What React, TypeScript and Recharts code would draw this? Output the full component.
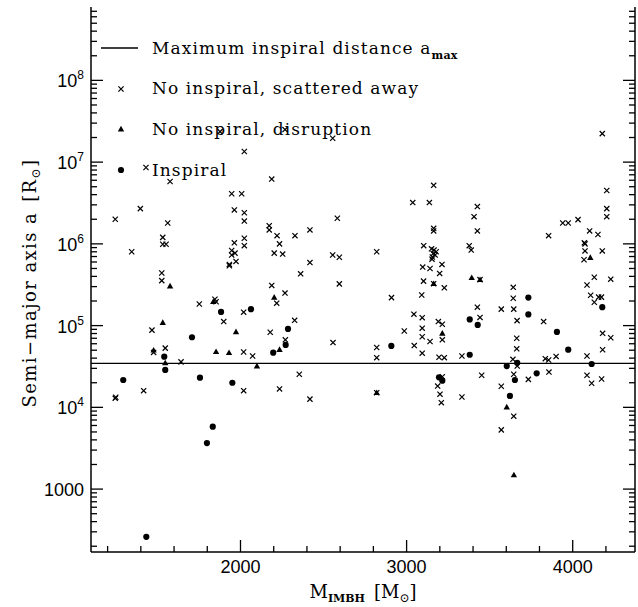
import React from 'react'
import { ReferenceLine, Scatter, ScatterChart, XAxis, YAxis } from 'recharts'

// axis ranges
const xDomain = [1100, 4375]
const yDomain = [170, 7.9e8]
const aMax = 34600

const xTicks = [1200, 1400, 1600, 1800, 2000, 2200, 2400, 2600, 2800, 3000, 3200, 3400, 3600, 3800, 4000, 4200]
const xMajorTicks = [2000, 3000, 4000]
const yMajorTicks = [1000, 1e4, 1e5, 1e6, 1e7, 1e8]
const yTickBases = ['1000', '10', '10', '10', '10', '10']
const yTickPowers = ['', '4', '5', '6', '7', '8']
const yMinorSteps = [2, 3, 4, 5, 6, 7, 8, 9]

// [M_IMBH, a]
const scatteredAway: [number, number][] = [
  [1431, 8.6e6], [2023, 1.35e7], [1576, 5.8e6], [2188, 6.2e6], [1947, 4.1e6], [2007, 4.1e6],
  [1397, 2.7e6], [1963, 2.6e6], [2023, 2.4e6], [1246, 2.0e6], [1562, 1.8e6], [2023, 1.9e6],
  [2173, 1.67e6], [2173, 1.48e6], [2220, 1.26e6], [1532, 1.2e6], [1532, 9.9e5], [1552, 9.9e5],
  [1963, 1.03e6], [2023, 1.17e6], [2023, 9.5e5], [2235, 1.0e6], [1345, 8.0e5], [1947, 8.3e5],
  [1947, 7.3e5], [1967, 7.7e5], [2203, 7.7e5], [1933, 5.6e5], [1933, 5.4e5], [1973, 6.1e5],
  [1526, 4.4e5], [1526, 3.55e5], [2188, 3.1e5], [1846, 2.1e5], [2218, 1.88e5], [1752, 1.84e5],
  [1853, 1.96e5], [2019, 1.46e5], [1899, 1.12e5], [1467, 8.8e4], [2179, 8.3e4], [1477, 4.7e4],
  [1547, 5.3e4], [2019, 4.75e4], [2073, 4.25e4], [1642, 3.6e4], [1417, 1.6e4], [2019, 1.6e4],
  [2235, 1.68e4], [1246, 1.29e4], [1249, 1.33e4], [1877, 2.36e7], [2268, 2.5e7], [2555, 1.96e7],
  [3163, 5.2e6], [3037, 3.2e6], [3137, 3.2e6], [2583, 2.06e6], [3163, 1.55e6], [3163, 1.44e6],
  [2328, 1.26e6], [2418, 1.48e6], [3103, 9.5e5], [3150, 8.7e5], [3165, 8.4e5], [3178, 8.0e5],
  [3160, 7.6e5], [3172, 7.3e5], [3155, 6.9e5], [2254, 7.5e5], [2555, 7.3e5], [2595, 6.85e5],
  [2820, 8.0e5], [2418, 5.9e5], [3153, 6.5e5], [3213, 5.6e5], [3097, 5.2e5], [3141, 5.0e5],
  [3199, 4.35e5], [2362, 4.3e5], [2595, 3.24e5], [3102, 3.5e5], [3163, 3.26e5], [3227, 2.9e5],
  [2268, 2.5e5], [2909, 2.2e5], [3091, 2.37e5], [3044, 1.38e5], [3094, 1.25e5], [2326, 1.16e5],
  [3191, 1.12e5], [3215, 1.04e5], [3094, 9.3e4], [2986, 8.6e4], [3094, 7.3e4], [3215, 6.7e4],
  [2270, 6.7e4], [3141, 6.4e4], [2557, 6.2e4], [3046, 5.7e4], [2820, 5.4e4], [3094, 4.6e4],
  [2820, 4.05e4], [3195, 4.1e4], [3227, 4.05e4], [2354, 2.54e4], [3215, 2.37e4], [3187, 1.82e4],
  [2418, 1.26e4], [2820, 1.51e4], [3201, 1.45e4], [3209, 1.14e4], [4178, 2.23e7], [4205, 4.5e6],
  [4205, 2.7e6], [4205, 2.15e6], [3426, 2.86e6], [3406, 2.15e6], [3426, 1.44e6], [3940, 1.8e6],
  [3973, 1.8e6], [4032, 1.98e6], [3855, 1.26e6], [4102, 1.44e6], [4152, 1.3e6], [3377, 9.5e5],
  [3389, 8.4e5], [4070, 1.03e6], [4074, 1.0e6], [4074, 8.2e5], [4178, 8.2e5], [4068, 6.4e5],
  [3442, 3.65e5], [3642, 2.94e5], [4130, 3.9e5], [4229, 3.7e5], [4086, 3.14e5], [4108, 2.35e5],
  [4156, 2.23e5], [4173, 2.23e5], [3642, 2.16e5], [4130, 1.93e5], [3426, 1.68e5], [3442, 1.26e5],
  [3570, 1.59e5], [3645, 1.59e5], [3665, 1.15e5], [3825, 1.12e5], [4180, 8.05e4], [4229, 7.1e4],
  [3663, 7.0e4], [3663, 5.2e4], [4180, 5.07e4], [3900, 4.2e4], [4086, 4.25e4], [3333, 4.25e4],
  [3640, 3.87e4], [3666, 3.2e4], [3835, 3.94e4], [3855, 3.79e4], [3452, 2.47e4], [3645, 2.54e4],
  [3733, 2.2e4], [3857, 2.7e4], [4086, 2.47e4], [4114, 1.97e4], [4174, 2.22e4], [3570, 1.81e4],
  [3333, 1.34e4], [3645, 7.8e3], [3570, 5.3e3],
]

const disruption: [number, number][] = [
  [1576, 3.05e5], [2203, 2.22e5], [1836, 1.96e5], [1532, 1.09e5], [1973, 8.4e4], [1477, 5.0e4],
  [1547, 3.5e4], [1853, 4.8e4], [1931, 4.67e4], [2235, 5.1e4], [2099, 3.2e4], [3163, 3.26e5],
  [3215, 8.05e4], [4106, 6.8e5], [3392, 3.86e5], [3442, 3.65e5], [2820, 1.51e4], [3603, 1.01e4],
  [3646, 1490],
]

const inspiral: [number, number][] = [
  [1883, 1.47e5], [2063, 1.59e5], [1708, 7.2e4], [1541, 4.17e4], [2197, 4.67e4], [1547, 2.87e4],
  [1294, 2.16e4], [1756, 2.31e4], [1951, 2.0e4], [1833, 5.8e3], [1798, 3.66e3], [1433, 261],
  [2286, 9.1e4], [2272, 5.8e4], [2908, 5.64e4], [3195, 2.33e4], [3215, 2.12e4], [3733, 2.2e5],
  [4178, 1.68e5], [3380, 1.19e5], [3428, 1.02e5], [3733, 1.37e5], [3905, 8.36e4], [3973, 5.07e4],
  [3380, 4.4e4], [3666, 3.51e4], [3603, 3.2e4], [4114, 3.39e4], [3652, 2.16e4], [3783, 2.61e4],
  [3622, 1.38e4],
]

const yTicks = [...yMajorTicks.slice(0, 1).map((d) => d / 10), ...yMajorTicks]
  .flatMap((d) => [d, ...yMinorSteps.map((m) => d * m)])
  .filter((v) => v >= yDomain[0] && v <= yDomain[1])

const toPoints = (pairs: [number, number][]) => pairs.map(([x, y]) => ({ x, y }))

const serif = '"DejaVu Serif", serif'
const sans = '"Liberation Sans", Arial, sans-serif'
const ink = '#000'

function CrossMark(props: any) {
  const { cx, cy } = props
  const s = 2.6
  return (
    <path
      d={`M${cx - s},${cy - s}L${cx + s},${cy + s}M${cx - s},${cy + s}L${cx + s},${cy - s}`}
      stroke={ink}
      strokeWidth={1.2}
      fill="none"
    />
  )
}

function TriangleMark(props: any) {
  const { cx, cy } = props
  const s = 3.2
  return <path d={`M${cx},${cy - s}L${cx + s},${cy + s * 0.75}L${cx - s},${cy + s * 0.75}Z`} fill={ink} />
}

function DotMark(props: any) {
  const { cx, cy } = props
  return <circle cx={cx} cy={cy} r={3.1} fill={ink} />
}

function BottomTick(props: any) {
  const { x, y, payload } = props
  const major = xMajorTicks.includes(payload.value)
  return (
    <g>
      <line x1={x} x2={x} y1={y} y2={y - (major ? 12 : 6)} stroke={ink} strokeWidth={1.3} />
      {major && (
        <text x={x} y={y + 21} textAnchor="middle" fontFamily={sans} fontSize={18} fill={ink}>
          {payload.value}
        </text>
      )}
    </g>
  )
}

function TopTick(props: any) {
  const { x, y, payload } = props
  const major = xMajorTicks.includes(payload.value)
  return <line x1={x} x2={x} y1={y} y2={y + (major ? 12 : 6)} stroke={ink} strokeWidth={1.3} />
}

function LeftTick(props: any) {
  const { x, y, payload } = props
  const i = yMajorTicks.indexOf(payload.value)
  const major = i >= 0
  return (
    <g>
      <line x1={x} x2={x + (major ? 12 : 6)} y1={y} y2={y} stroke={ink} strokeWidth={1.3} />
      {major && (
        <text x={x - 7} y={y + 7} textAnchor="end" fontFamily={sans} fontSize={18} fill={ink}>
          {yTickBases[i]}
          {yTickPowers[i] && (
            <tspan dy={-8} fontSize={12}>
              {yTickPowers[i]}
            </tspan>
          )}
        </text>
      )}
    </g>
  )
}

function RightTick(props: any) {
  const { x, y, payload } = props
  const major = yMajorTicks.includes(payload.value)
  return <line x1={x} x2={x - (major ? 12 : 6)} y1={y} y2={y} stroke={ink} strokeWidth={1.3} />
}

function Overlay() {
  return (
    <svg width={638} height={607} style={{ position: 'absolute', left: 0, top: 0, pointerEvents: 'none' }}>
      <g fontFamily={serif} fontSize={17} fill={ink} letterSpacing={1.1}>
        <line x1={101} x2={138} y1={48} y2={48} stroke={ink} strokeWidth={1.3} />
        <text x={152} y={54}>
          Maximum inspiral distance a
          <tspan dy={5} fontSize={11} fontWeight="bold" letterSpacing={0.3}>max</tspan>
        </text>
        <CrossMark cx={121} cy={89} />
        <text x={152} y={94}>No inspiral, scattered away</text>
        <TriangleMark cx={121} cy={129} />
        <text x={152} y={135}>No inspiral, disruption</text>
        <DotMark cx={121} cy={170} />
        <text x={152} y={176}>Inspiral</text>
      </g>
      <text x={363} y={598} textAnchor="middle" fontFamily={serif} fontSize={18} fill={ink}>
        M<tspan dy={4} fontSize={11} fontWeight="bold">IMBH</tspan>
        <tspan dy={-4} dx={9}>[M</tspan>
        <tspan dy={4} fontSize={12}>⊙</tspan>
        <tspan dy={-4}>]</tspan>
      </text>
      <text
        transform="translate(36, 283) rotate(-90)"
        textAnchor="middle"
        fontFamily={serif}
        fontSize={18}
        letterSpacing={1.4}
        fill={ink}
      >
        Semi−major axis a<tspan dx={10}>[R</tspan>
        <tspan dy={4} fontSize={12}>⊙</tspan>
        <tspan dy={-4}>]</tspan>
      </text>
    </svg>
  )
}

export default function App() {
  const axisLine = { stroke: ink, strokeWidth: 1.5 }
  return (
    <div style={{ position: 'absolute', left: 0, top: 0, width: 638, height: 607, background: '#fff' }}>
      <ScatterChart width={638} height={607} margin={{ top: 7, right: 0, bottom: 0, left: 0 }}>
        <XAxis
          xAxisId={0}
          dataKey="x"
          type="number"
          domain={xDomain}
          ticks={xTicks}
          interval={0}
          allowDataOverflow
          height={55}
          tickSize={0}
          tickMargin={0}
          tickLine={false}
          axisLine={axisLine}
          tick={<BottomTick />}
        />
        <XAxis
          xAxisId="top"
          orientation="top"
          type="number"
          domain={xDomain}
          ticks={xTicks}
          interval={0}
          allowDataOverflow
          height={0}
          tickSize={0}
          tickMargin={0}
          tickLine={false}
          axisLine={axisLine}
          tick={<TopTick />}
        />
        <YAxis
          yAxisId={0}
          dataKey="y"
          type="number"
          scale="log"
          domain={yDomain}
          ticks={yTicks}
          interval={0}
          allowDataOverflow
          width={91}
          tickSize={0}
          tickMargin={0}
          tickLine={false}
          axisLine={axisLine}
          tick={<LeftTick />}
        />
        <YAxis
          yAxisId="right"
          orientation="right"
          type="number"
          scale="log"
          domain={yDomain}
          ticks={yTicks}
          interval={0}
          allowDataOverflow
          width={3}
          tickSize={0}
          tickMargin={0}
          tickLine={false}
          axisLine={axisLine}
          tick={<RightTick />}
        />
        <ReferenceLine y={aMax} xAxisId={0} yAxisId={0} stroke={ink} strokeWidth={1.3} />
        <Scatter data={toPoints(scatteredAway)} shape={CrossMark} isAnimationActive={false} />
        <Scatter data={toPoints(disruption)} shape={TriangleMark} isAnimationActive={false} />
        <Scatter data={toPoints(inspiral)} shape={DotMark} isAnimationActive={false} />
      </ScatterChart>
      <Overlay />
    </div>
  )
}
